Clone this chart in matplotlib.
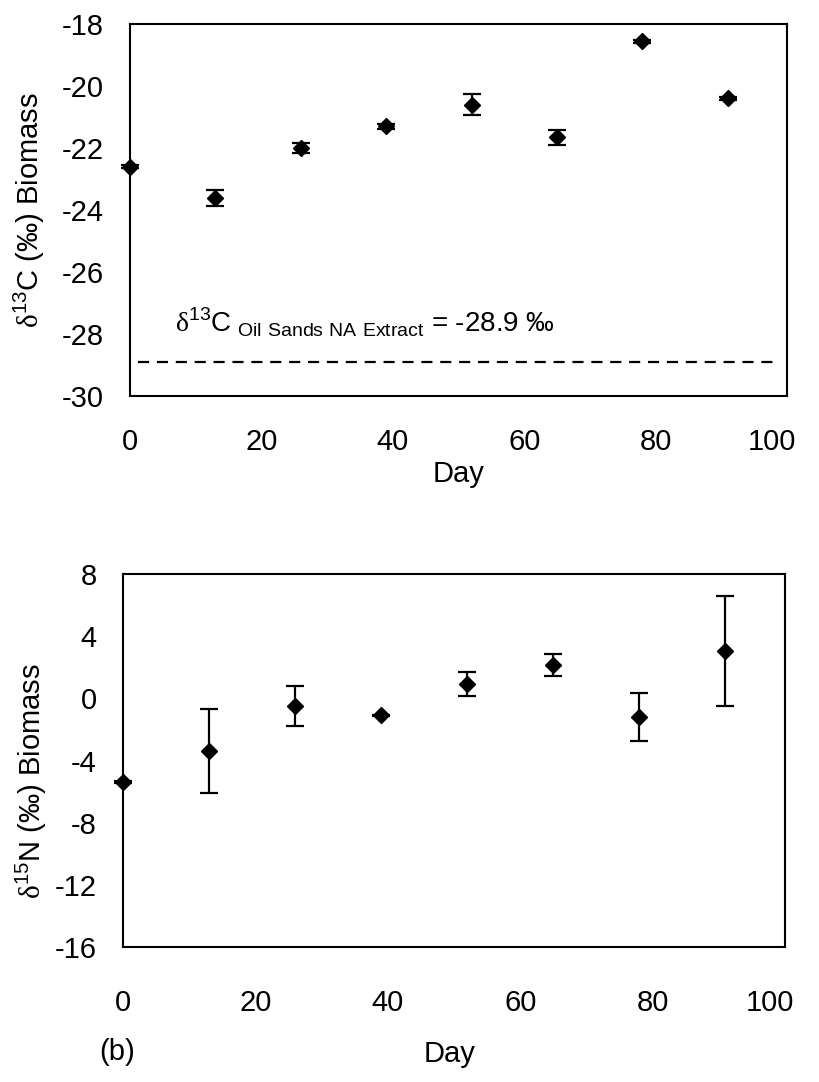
import numpy as np
import matplotlib
matplotlib.use("Agg")
import matplotlib.pyplot as plt
from matplotlib.transforms import ScaledTranslation

plt.rcParams['font.family'] = ['Liberation Sans', 'DejaVu Sans']
plt.rcParams['mathtext.fontset'] = 'custom'
plt.rcParams['mathtext.rm'] = 'Liberation Sans'
plt.rcParams['mathtext.sf'] = 'Liberation Serif'
plt.rcParams['axes.unicode_minus'] = False

# sampling days
days = [0, 13, 26, 39, 52, 65, 78, 91]

# (a) carbon isotope of biomass
d13c = [-22.6, -23.6, -22.0, -21.3, -20.6, -21.65, -18.55, -20.4]
d13c_err = [0.05, 0.26, 0.15, 0.08, 0.35, 0.24, 0.05, 0.05]
na_extract = -28.9

# (b) nitrogen isotope of biomass
d15n = [-5.4, -3.4, -0.5, -1.1, 0.9, 2.15, -1.2, 3.05]
d15n_err = [0.05, 2.7, 1.3, 0.05, 0.78, 0.71, 1.55, 3.55]

FS = 21

fig = plt.figure(figsize=(8.19, 10.82), dpi=100)

ax1 = fig.add_axes([130/819, 1-396/1082, 657/819, 372/1082])
ax2 = fig.add_axes([123/819, 1-947/1082, 662/819, 373/1082])

style = dict(fmt='D', color='black', ms=8.5, elinewidth=1.6, capsize=6.8, capthick=1.6)


def no_clip(eb):
    for art in eb.lines[0:1] + tuple(eb.lines[1]) + tuple(eb.lines[2]):
        art.set_clip_on(False)


no_clip(ax1.errorbar(days, d13c, yerr=d13c_err, **style))
ax1.axhline(na_extract, xmin=0.012, xmax=0.985, color='black', lw=1.6,
            linestyle=(0, (5, 3.5)))
ax1.text(6.8, -27.95,
         r'$\mathsf{\delta}^{13}$C$_{\ \mathrm{Oil\ Sands\ NA\ Extract}}$ = -28.9 ‰',
         fontsize=FS - 1, ha='left', va='baseline')
ax1.set_xlim(0, 100)
ax1.set_ylim(-30, -18)
ax1.set_yticks(np.arange(-30, -17, 2))
ax1.set_xticks(np.arange(0, 101, 20))
ax1.set_xlabel('Day', fontsize=FS)
ax1.set_ylabel(r'$\mathsf{\delta}^{13}$C (‰) Biomass', fontsize=FS)
ax1.tick_params(axis='x', length=0, pad=23, labelsize=FS)
ax1.tick_params(axis='y', length=0, pad=19, labelsize=FS)
ax1.xaxis.set_label_coords(0.5, -0.172)
ax1.yaxis.set_label_coords(-0.126, 0.5)

no_clip(ax2.errorbar(days, d15n, yerr=d15n_err, **style))
ax2.set_xlim(0, 100)
ax2.set_ylim(-16, 8)
ax2.set_yticks(np.arange(-16, 9, 4))
ax2.set_xticks(np.arange(0, 101, 20))
ax2.set_xlabel('Day', fontsize=FS)
ax2.set_ylabel(r'$\mathsf{\delta}^{15}$N (‰) Biomass', fontsize=FS)
ax2.tick_params(axis='x', length=0, pad=30, labelsize=FS)
ax2.tick_params(axis='y', length=0, pad=19, labelsize=FS)
ax2.xaxis.set_label_coords(0.494, -0.248)
ax2.yaxis.set_label_coords(-0.112, 0.445)

for ax in (ax1, ax2):
    for sp in ax.spines.values():
        sp.set_linewidth(1.5)
    # last x label sits pulled in, as in the original
    last = ax.get_xticklabels()[-1]
    last.set_transform(last.get_transform() + ScaledTranslation(-0.15, 0, fig.dpi_scale_trans))

fig.text(117/819, 1-1052/1082, '(b)', fontsize=FS, ha='center', va='center')

fig.savefig('out.png', dpi=100)
